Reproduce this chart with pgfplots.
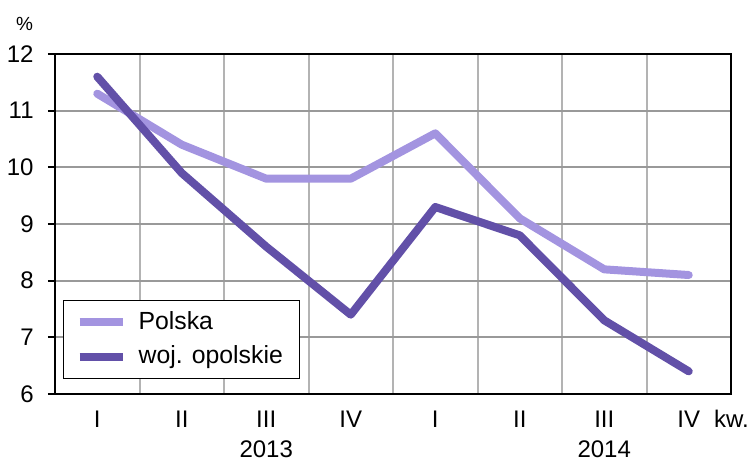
\documentclass[border=0pt]{standalone}
\usepackage{pgfplots}
\pgfplotsset{compat=1.18}
\usepackage{fontspec}
\setmainfont{Liberation Sans}
\definecolor{polska}{HTML}{A394E0}
\definecolor{opol}{HTML}{6250A8}
\definecolor{hgrid}{HTML}{999999}
\definecolor{vgrid}{HTML}{B3B3B3}
\begin{document}
\fontsize{12bp}{14bp}\selectfont
\begin{tikzpicture}
\begin{axis}[
  scale only axis,
  width=338bp, height=170bp,
  xmin=-0.5, xmax=7.5, ymin=6, ymax=12,
  clip=false,
  axis line style={black, line width=1bp},
  xtick={0,...,7},
  xticklabels={I,II,III,IV,I,II,III,IV},
  xtick style={draw=none},
  minor xtick={0.5,1.5,...,6.5},
  xminorgrids=true,
  minor x grid style={vgrid, line width=1bp},
  minor tick length=0pt,
  ytick={6,...,12},
  ymajorgrids=true,
  major y grid style={hgrid, line width=1bp},
  ytick pos=left,
  ytick align=outside,
  major tick length=3.5bp,
  ytick style={black, line width=1bp},
  yticklabel style={xshift=-3bp},
  xticklabel style={anchor=base, yshift=-16.5bp},
  /pgf/number format/assume math mode=true,
  legend cell align=left,
  legend style={at={(rel axis cs:0,0)}, anchor=south west, xshift=4bp, yshift=7.5bp,
    draw=black, line width=0.6bp, fill=white,
    inner xsep=6bp, inner ysep=3bp, row sep=1.5bp,
    font=\fontsize{12.4bp}{14bp}\selectfont,
    nodes={inner sep=2.5bp}},
  legend image code/.code={\draw[#1, line cap=butt, line width=4bp] (0bp,0bp) -- (21.5bp,0bp); \path (25bp,0bp);},
]
\addplot[polska, line width=4bp, line cap=round, line join=round] coordinates {
 (0,11.3) (1,10.4) (2,9.8) (3,9.8) (4,10.6) (5,9.1) (6,8.2) (7,8.1)};
\addlegendentry{Polska}
\addplot[opol, line width=4bp, line cap=round, line join=round] coordinates {
 (0,11.6) (1,9.9) (2,8.6) (3,7.4) (4,9.3) (5,8.8) (6,7.3) (7,6.4)};
\addlegendentry{woj. opolskie\hspace{3bp}}
\draw[black!60, line width=1bp] (axis cs:3.5,6) ++(0,-2.5bp) -- ++(0,-19bp);
\node at (axis cs:2,6) [yshift=-27.5bp] {2013};
\node at (axis cs:6,6) [yshift=-27.5bp] {2014};
\node[anchor=base] at (rel axis cs:1,0) [xshift=0.25bp, yshift=-16.5bp] {kw.};
\node at (rel axis cs:0,1) [xshift=-15.25bp, yshift=15bp] {\fontsize{9.5bp}{10bp}\selectfont\%};
\coordinate (sw) at (rel axis cs:0,0);
\coordinate (ne) at (rel axis cs:1,1);
\end{axis}
\pgfresetboundingbox
\path[use as bounding box] ([shift={(-27.5bp,-33.5bp)}]sw) rectangle ([shift={(12bp,27bp)}]ne);
\end{tikzpicture}
\end{document}
